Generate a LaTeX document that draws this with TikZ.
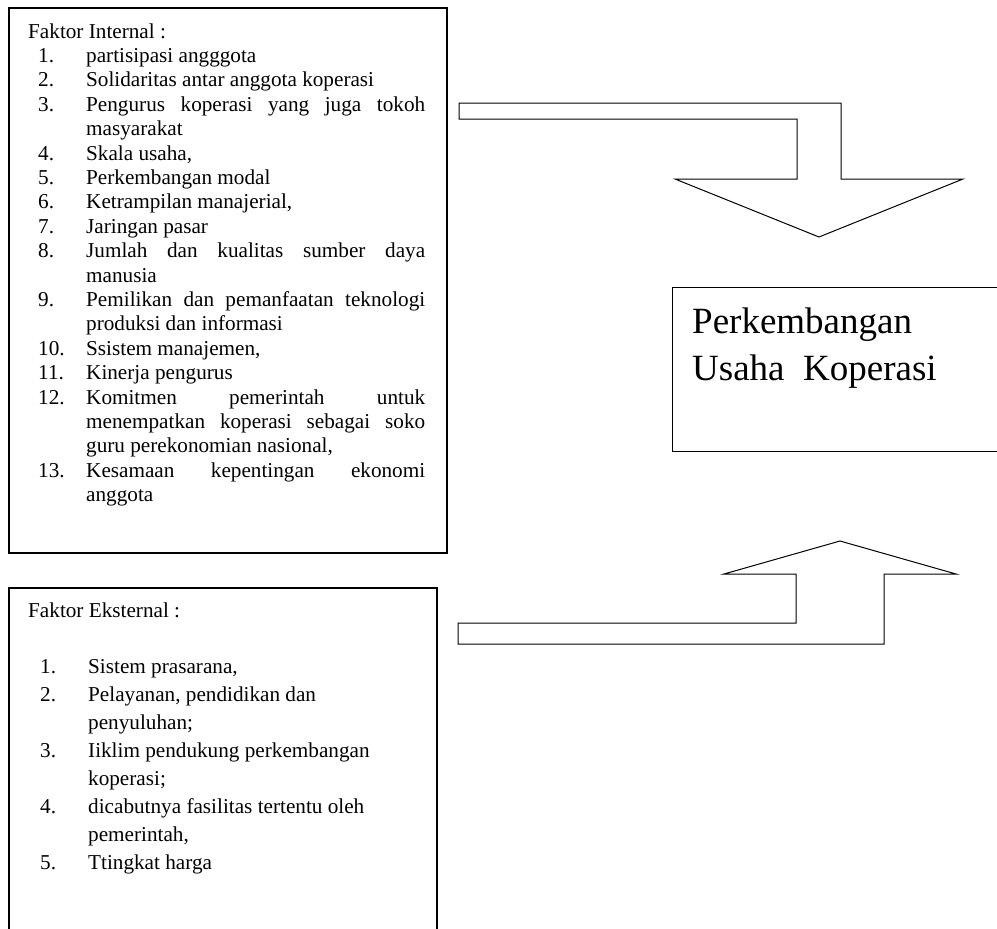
\documentclass[tikz,border=0pt]{standalone}
\usepackage{fontspec}
\setmainfont{Liberation Serif}
\usepackage{tikz}
\newcommand{\butir}[2]{\hspace*{10pt}\makebox[48pt][l]{#1}#2}
\newcommand{\lanjut}[1]{\hspace*{58pt}#1}
\newcommand{\eksbutir}[2]{\hspace*{12pt}\makebox[48pt][l]{#1}#2}
\newcommand{\ekslanjut}[1]{\hspace*{60pt}#1}
\newcommand{\rata}[1]{\makebox[339pt][s]{#1}}

\begin{document}
\begin{tikzpicture}[x=1pt,y=-1pt]
	\tikzstyle{kotak}=[draw,line width=1.6pt,inner sep=0pt,anchor=north west]
	\tikzstyle{daftar}=[align=left,inner sep=0pt,anchor=north west]
	\tikzstyle{panah}=[line width=1pt,line join=miter]
	
	\useasboundingbox (0,0) rectangle (997,929);
	\clip (0,0) rectangle (997,929);
	
	\node[kotak,minimum width=438pt,minimum height=545pt] at (8,7) (internal) {};
	\node[kotak,minimum width=428pt,minimum height=360pt] at (8,587) (eksternal) {};
	\node[kotak,line width=1.2pt,minimum width=340pt,minimum height=164pt] at (672,287) (hasil) {};
	
	\node[daftar,font=\fontsize{21.2}{24.4}\selectfont] at (28,23.2) (teksint) {%
		Faktor Internal :\\
		\butir{1.}{partisipasi angggota}\\
		\butir{2.}{Solidaritas antar anggota koperasi}\\
		\butir{3.}{\rata{Pengurus koperasi yang juga tokoh}}\\
		\lanjut{masyarakat}\\
		\butir{4.}{Skala usaha,}\\
		\butir{5.}{Perkembangan modal}\\
		\butir{6.}{Ketrampilan manajerial,}\\
		\butir{7.}{Jaringan pasar}\\
		\butir{8.}{\rata{Jumlah dan kualitas sumber daya}}\\
		\lanjut{manusia}\\
		\butir{9.}{\rata{Pemilikan dan pemanfaatan teknologi}}\\
		\lanjut{produksi dan informasi}\\
		\butir{10.}{Ssistem manajemen,}\\
		\butir{11.}{Kinerja pengurus}\\
		\butir{12.}{\rata{Komitmen pemerintah untuk}}\\
		\lanjut{\rata{menempatkan koperasi sebagai soko}}\\
		\lanjut{guru perekonomian nasional,}\\
		\butir{13.}{\rata{Kesamaan kepentingan ekonomi}}\\
		\lanjut{anggota}};
	
	\node[daftar,font=\fontsize{21.2}{28}\selectfont] at (28,602.5) (teksekst) {%
		Faktor Eksternal :\\[28pt]
		\eksbutir{1.}{Sistem prasarana,}\\
		\eksbutir{2.}{Pelayanan, pendidikan dan}\\
		\ekslanjut{penyuluhan;}\\
		\eksbutir{3.}{Iiklim pendukung perkembangan}\\
		\ekslanjut{koperasi;}\\
		\eksbutir{4.}{dicabutnya fasilitas tertentu oleh}\\
		\ekslanjut{pemerintah,}\\
		\eksbutir{5.}{Ttingkat harga}};
	
	\node[daftar,font=\fontsize{37}{47}\selectfont] at (692,307.7) (judul) {Perkembangan\\Usaha\ \ Koperasi};
	
	\draw[panah] (459,103) -- (841,103) -- (841,179) -- (963,179) -- (819,237) -- (675,179) -- (797,179) -- (797,119) -- (459,119) -- cycle;
	\draw[panah] (458,623) -- (796,623) -- (796,574) -- (724,574) -- (840,541) -- (956,574) -- (884,574) -- (884,644) -- (458,644) -- cycle;
\end{tikzpicture}
\end{document}
